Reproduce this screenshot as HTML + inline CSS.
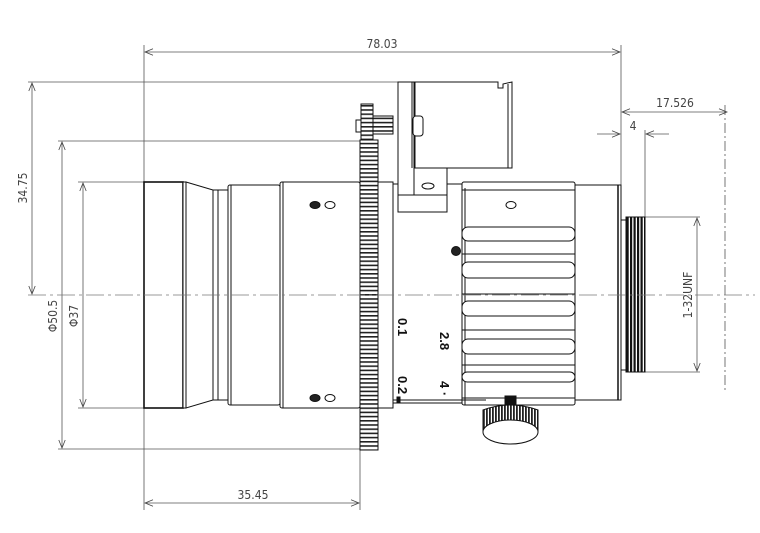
<!DOCTYPE html>
<html><head><meta charset="utf-8"><style>
html,body{margin:0;padding:0;background:#fff;}
svg{display:block;}
text{font-family:"DejaVu Sans Condensed","Liberation Sans Narrow","Liberation Sans",sans-serif;fill:#444;font-size:12px;}
</style></head><body>
<svg width="760" height="533" viewBox="0 0 760 533" xmlns="http://www.w3.org/2000/svg">
<defs>
<pattern id="gear" x="0" y="0" width="18" height="4.2" patternUnits="userSpaceOnUse">
<rect width="18" height="4.2" fill="#fff"/><rect y="0" width="18" height="1.6" fill="#222"/>
</pattern>
<pattern id="thr" x="0" y="0" width="3.5" height="4" patternUnits="userSpaceOnUse">
<rect width="3.5" height="4" fill="#fff"/><rect width="2.2" height="4" fill="#111"/>
</pattern>
<pattern id="knurl" x="0" y="0" width="3" height="4" patternUnits="userSpaceOnUse">
<rect width="3" height="4" fill="#fff"/><rect width="1.8" height="4" fill="#222"/>
</pattern>
<marker id="a" viewBox="0 0 10 10" refX="10" refY="5" markerWidth="10" markerHeight="8" orient="auto-start-reverse" markerUnits="userSpaceOnUse">
<path d="M0,1 L10,5 L0,9" fill="none" stroke="#444" stroke-width="1"/>
</marker>
</defs>
<g stroke="#555" stroke-width="0.8" fill="none">
<line x1="144" y1="45" x2="144" y2="510"/>
<line x1="621" y1="45" x2="621" y2="185"/>
<line x1="28" y1="82" x2="400" y2="82"/>
<line x1="58" y1="141" x2="362" y2="141"/>
<line x1="58" y1="449" x2="362" y2="449"/>
<line x1="78" y1="182" x2="146" y2="182"/>
<line x1="78" y1="408" x2="146" y2="408"/>
<line x1="360" y1="450" x2="360" y2="510"/>
<line x1="645" y1="130" x2="645" y2="217"/>
<line x1="725" y1="105" x2="725" y2="390" stroke-dasharray="10,3,2,3"/>
<line x1="645" y1="217" x2="700" y2="217"/>
<line x1="645" y1="372" x2="700" y2="372"/>
<line x1="145" y1="52" x2="620" y2="52" marker-start="url(#a)" marker-end="url(#a)"/>
<line x1="145" y1="503" x2="359" y2="503" marker-start="url(#a)" marker-end="url(#a)"/>
<line x1="32" y1="83" x2="32" y2="294" marker-start="url(#a)" marker-end="url(#a)"/>
<line x1="62" y1="142" x2="62" y2="448" marker-start="url(#a)" marker-end="url(#a)"/>
<line x1="83" y1="183" x2="83" y2="407" marker-start="url(#a)" marker-end="url(#a)"/>
<line x1="622" y1="112" x2="727" y2="112" marker-start="url(#a)" marker-end="url(#a)"/>
<line x1="597" y1="134" x2="620" y2="134" marker-end="url(#a)"/>
<line x1="669" y1="134" x2="646" y2="134" marker-end="url(#a)"/>
<line x1="697" y1="218" x2="697" y2="371" marker-start="url(#a)" marker-end="url(#a)"/>
</g>
<text x="382" y="48" text-anchor="middle">78.03</text>
<text x="253" y="499" text-anchor="middle" font-size="11">35.45</text>
<text x="675" y="107" text-anchor="middle">17.526</text>
<text x="633" y="130" text-anchor="middle">4</text>
<text transform="translate(27,188) rotate(-90)" text-anchor="middle">34.75</text>
<text transform="translate(57,316) rotate(-90)" text-anchor="middle">Φ50.5</text>
<text transform="translate(78,316) rotate(-90)" text-anchor="middle">Φ37</text>
<text transform="translate(692,295) rotate(-90)" text-anchor="middle" font-size="11">1-32UNF</text>

<g stroke="#111" stroke-width="1" fill="#fff">
<rect x="144" y="182" width="39" height="226" stroke-width="1.6"/>
<rect x="183" y="182" width="3" height="226"/>
<path d="M186,182 L213,190 L213,400 L186,408 Z"/>
<rect x="213" y="190" width="5" height="210"/>
<rect x="218" y="190" width="10" height="210"/>
<rect x="228" y="185" width="52" height="220" rx="2"/>
<line x1="231" y1="185" x2="231" y2="405"/>
<rect x="280" y="182" width="80" height="226" rx="2"/>
<line x1="283" y1="182" x2="283" y2="408"/>
<rect x="378" y="182" width="15" height="226"/>
<rect x="393" y="184" width="69" height="219"/>
<rect x="575" y="185" width="46" height="215"/>
<line x1="618" y1="185" x2="618" y2="400" stroke-width="1.5"/>
<rect x="462" y="182" width="113" height="223" rx="2"/>
<line x1="465" y1="188" x2="465" y2="405"/>
<line x1="462" y1="190" x2="575" y2="190"/>
<rect x="462" y="227" width="113" height="14" rx="6"/>
<rect x="462" y="262" width="113" height="16" rx="6"/>
<rect x="462" y="301" width="113" height="15" rx="6"/>
<rect x="462" y="339" width="113" height="15" rx="6"/>
<rect x="462" y="372" width="113" height="10" rx="5"/>
<line x1="462" y1="254" x2="575" y2="254"/>
<line x1="462" y1="294" x2="575" y2="294"/>
<line x1="462" y1="330" x2="575" y2="330"/>
<line x1="462" y1="365" x2="575" y2="365"/>
<line x1="462" y1="398" x2="575" y2="398"/>
<line x1="393" y1="400" x2="486" y2="400"/>
<rect x="621" y="220" width="5" height="150"/>
<rect x="626" y="217" width="19" height="155" fill="url(#thr)"/>
<rect x="360" y="140" width="18" height="310" fill="url(#gear)"/>
<rect x="361" y="104" width="12" height="36" fill="url(#gear)"/>
<rect x="356" y="120" width="5" height="12"/>
<rect x="373" y="116" width="20" height="18" fill="url(#gear)"/>
<rect x="398" y="82" width="16" height="113"/>
<line x1="412" y1="82" x2="412" y2="168"/>
<path d="M415,82 L498,82 L498,88 L503,88 L503,84 L512,82 L512,168 L415,168 Z"/>
<line x1="508" y1="84" x2="508" y2="168"/>
<rect x="413" y="116" width="10" height="20" rx="3"/>
<rect x="414" y="168" width="33" height="44"/>
<rect x="398" y="195" width="49" height="17"/>
<rect x="505" y="396" width="11" height="10" fill="#111"/>
<path d="M483,410 Q510,400 538,410 L538,432 L483,432 Z" fill="url(#knurl)"/>
<ellipse cx="510.5" cy="432" rx="27.5" ry="12"/>
<ellipse cx="315" cy="205" rx="5" ry="3.5" fill="#222"/>
<ellipse cx="330" cy="205" rx="5" ry="3.5"/>
<ellipse cx="315" cy="398" rx="5" ry="3.5" fill="#222"/>
<ellipse cx="330" cy="398" rx="5" ry="3.5"/>
<ellipse cx="428" cy="186" rx="6" ry="3"/>
<ellipse cx="511" cy="205" rx="5" ry="3.5"/>
<circle cx="456" cy="251" r="4.5" fill="#222"/>
<rect x="397" y="397" width="3" height="6" fill="#111"/>
</g>
<line x1="28" y1="295" x2="755" y2="295" stroke-dasharray="18,4,3,4" stroke="#777" stroke-width="0.8"/>
<g>
<text transform="translate(398,318) rotate(90)" style="fill:#111;font-family:'Liberation Sans',sans-serif;font-weight:bold;font-size:13px">0.1</text>
<text transform="translate(440,332) rotate(90)" style="fill:#111;font-family:'Liberation Sans',sans-serif;font-weight:bold;font-size:13px">2.8</text>
<text transform="translate(398,376) rotate(90)" style="fill:#111;font-family:'Liberation Sans',sans-serif;font-weight:bold;font-size:13px">0.2</text>
<text transform="translate(440,381) rotate(90)" style="fill:#111;font-family:'Liberation Sans',sans-serif;font-weight:bold;font-size:13px">4 ·</text>
</g>
</svg>
</body></html>
